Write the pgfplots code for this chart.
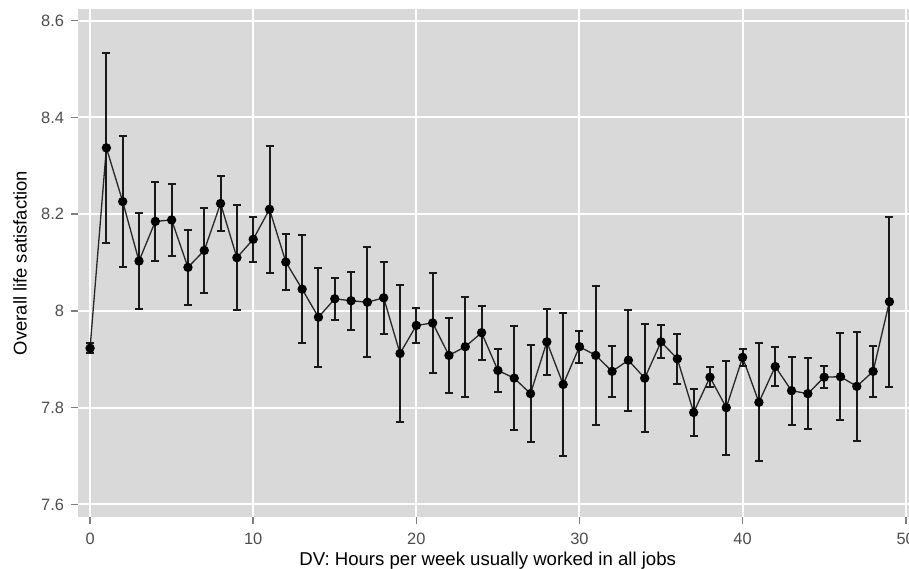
\documentclass[border=0pt]{standalone}
\usepackage{fontspec}
\setmainfont{Liberation Sans}
\usepackage{pgfplots}
\pgfplotsset{compat=1.18}
\usepackage{pgfplotstable}
\definecolor{ggbg}{HTML}{D9D9D9}
\definecolor{ggtext}{HTML}{4D4D4D}
\definecolor{ggtick}{HTML}{7F7F7F}

% hours worked vs. mean life satisfaction, with half-width of the error bar
\pgfplotstableread{
x  y      e
0  7.923  0.010
1  8.337  0.196
2  8.226  0.135
3  8.103  0.100
4  8.185  0.082
5  8.188  0.074
6  8.090  0.077
7  8.125  0.088
8  8.222  0.056
9  8.110  0.108
10 8.148  0.046
11 8.210  0.131
12 8.101  0.057
13 8.045  0.111
14 7.987  0.102
15 8.025  0.043
16 8.021  0.060
17 8.018  0.114
18 8.027  0.074
19 7.912  0.141
20 7.970  0.036
21 7.975  0.104
22 7.908  0.077
23 7.926  0.103
24 7.955  0.056
25 7.877  0.044
26 7.861  0.108
27 7.829  0.100
28 7.936  0.068
29 7.848  0.148
30 7.926  0.033
31 7.908  0.143
32 7.875  0.052
33 7.898  0.104
34 7.861  0.112
35 7.936  0.034
36 7.901  0.052
37 7.790  0.049
38 7.863  0.021
39 7.800  0.097
40 7.904  0.017
41 7.811  0.122
42 7.885  0.041
43 7.835  0.070
44 7.829  0.074
45 7.863  0.023
46 7.864  0.090
47 7.844  0.113
48 7.875  0.053
49 8.019  0.176
}\lifesat

\begin{document}
\begin{tikzpicture}
\begin{axis}[
  scale only axis,
  width=415.5pt, height=254pt,
  xmin=-0.74, xmax=50.2,
  ymin=7.574, ymax=8.624,
  xtick={0,10,...,50},
  ytick={7.6,7.8,8,8.2,8.4,8.6},
  yticklabels={7.6,7.8,8,8.2,8.4,8.6},
  axis background/.style={fill=ggbg},
  axis line style={draw=none},
  grid=major,
  major grid style={white, line width=1pt},
  tick pos=left,
  tick align=outside,
  major tick length=3.5pt,
  tick style={ggtick, line width=0.8pt},
  /pgf/number format/assume math mode=true,
  tick label style={font=\fontsize{8.2}{9}\selectfont, text=ggtext},
  xticklabel style={yshift=-1pt},
  xlabel={DV: Hours per week usually worked in all jobs},
  ylabel={Overall life satisfaction},
  every axis x label/.style={at={(axis description cs:0.493,0)}, yshift=-22pt,
    anchor=center, font=\fontsize{9.3}{11}\selectfont},
  every axis y label/.style={at={(axis description cs:0,0.5)}, xshift=-29pt,
    rotate=90, anchor=center, font=\fontsize{9.2}{11}\selectfont},
]
\addplot[black!85, line width=0.65pt, mark=*, mark size=2pt,
  mark options={black},
  error bars/.cd, y dir=both, y explicit,
  error bar style={black!90, line width=1pt},
  error mark options={black!90, rotate=90, mark size=2pt, line width=1pt}]
  table[x=x, y=y, y error=e] {\lifesat};
\end{axis}
\pgfresetboundingbox
\path ([xshift=-39pt, yshift=-26pt]current axis.south west)
  rectangle ([yshift=4.5pt]current axis.north east);
\end{tikzpicture}
\end{document}
